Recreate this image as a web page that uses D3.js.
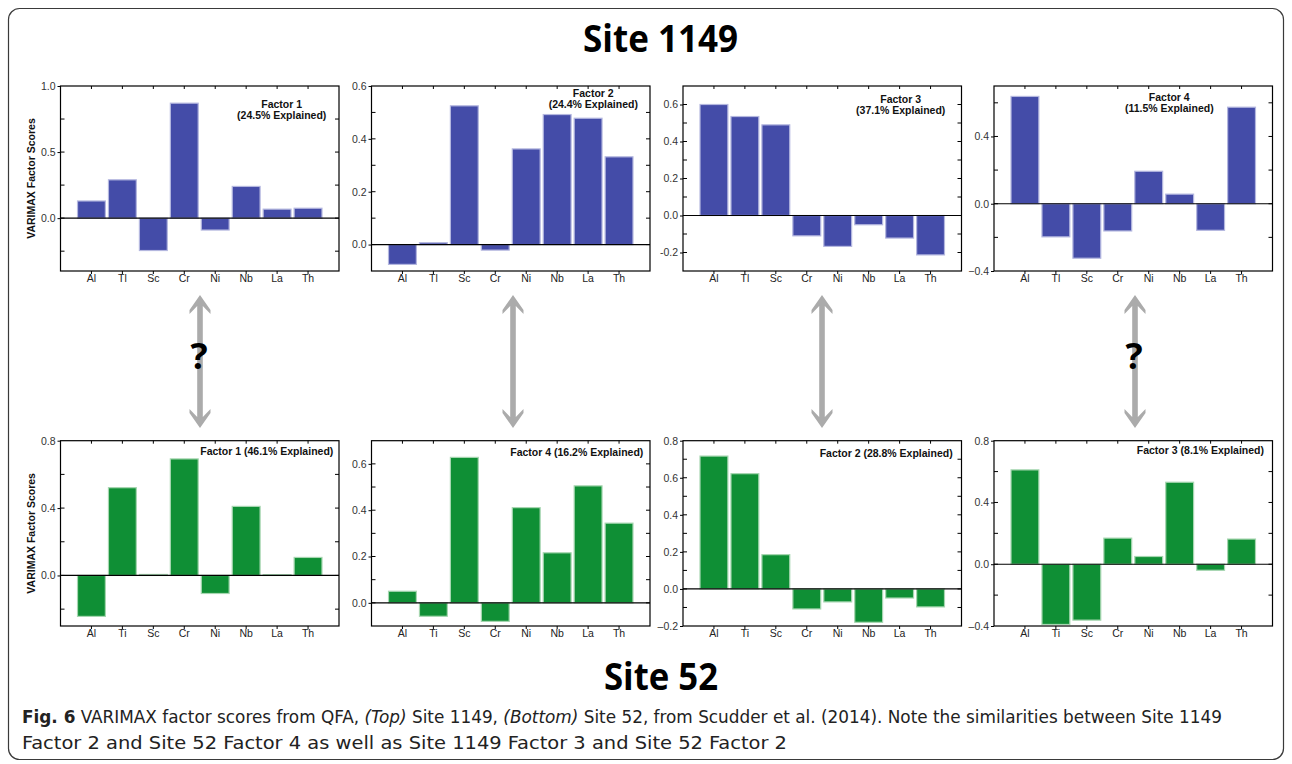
<!DOCTYPE html>
<html>
<head>
<meta charset="utf-8">
<script src="https://cdn.jsdelivr.net/npm/d3@7"></script>
<style>
  html, body { margin: 0; padding: 0; background: #fff; }
  svg { display: block; }
</style>
</head>
<body>
<svg id="chart" width="1292" height="764"></svg>
<script>
// ---------------- DATA ----------------
const elementsTop = ["Al", "Tl", "Sc", "Cr", "Ni", "Nb", "La", "Th"];
const elementsBottom = ["Al", "Ti", "Sc", "Cr", "Ni", "Nb", "La", "Th"];

// Site 1149 (top row)
const site1149Factor1 = [0.13, 0.29, -0.245, 0.87, -0.09, 0.24, 0.068, 0.075];
const site1149Factor2 = [-0.075, 0.007, 0.525, -0.021, 0.362, 0.492, 0.478, 0.332];
const site1149Factor3 = [0.60, 0.535, 0.49, -0.11, -0.167, -0.05, -0.122, -0.213];
const site1149Factor4 = [0.638, -0.197, -0.324, -0.162, 0.193, 0.057, -0.158, 0.574];

// Site 52 (bottom row)
const site52Factor1 = [-0.243, 0.521, 0.006, 0.692, -0.107, 0.41, 0.005, 0.107];
const site52Factor4 = [0.05, -0.058, 0.628, -0.08, 0.411, 0.216, 0.505, 0.344];
const site52Factor2 = [0.717, 0.622, 0.185, -0.108, -0.07, -0.18, -0.049, -0.097];
const site52Factor3 = [0.611, -0.39, -0.362, 0.169, 0.05, 0.531, -0.039, 0.163];

// Axis domains, ticks and tick labels per panel
const yDomains = [[-0.4, 1.0], [-0.1, 0.6], [-0.3, 0.7], [-0.4, 0.7],
                  [-0.3, 0.8], [-0.1, 0.7], [-0.2, 0.8], [-0.4, 0.8]];
const majorTicks = [[0, 0.5, 1.0], [0, 0.2, 0.4, 0.6], [-0.2, 0, 0.2, 0.4, 0.6], [-0.4, 0, 0.4],
                    [0, 0.4, 0.8], [0, 0.2, 0.4, 0.6], [-0.2, 0, 0.2, 0.4, 0.6, 0.8], [-0.4, 0, 0.4, 0.8]];
const majorLabels = [["0.0", "0.5", "1.0"], ["0.0", "0.2", "0.4", "0.6"], ["-0.2", "0.0", "0.2", "0.4", "0.6"], ["\u22120.4", "0.0", "0.4"],
                     ["0.0", "0.4", "0.8"], ["0.0", "0.2", "0.4", "0.6"], ["\u20130.2", "0.0", "0.2", "0.4", "0.6", "0.8"], ["\u20130.4", "0.0", "0.4", "0.8"]];
const minorSteps = [0.25, 0.1, 0.1, 0.2, 0.2, 0.1, 0.1, 0.2];

const topFactorNames = ["Factor 1", "Factor 2", "Factor 3", "Factor 4"];
const topExplained = ["(24.5% Explained)", "(24.4% Explained)", "(37.1% Explained)", "(11.5% Explained)"];
const bottomLabels = ["Factor 1 (46.1% Explained)", "Factor 4 (16.2% Explained)",
                      "Factor 2 (28.8% Explained)", "Factor 3 (8.1% Explained)"];

const yAxisTitle = "VARIMAX Factor Scores";
const titleTop = "Site 1149";
const titleBottom = "Site 52";

// ---------------- LAYOUT ----------------
const svg = d3.select("#chart");
const FONT = "'Liberation Sans', Arial, Helvetica, sans-serif";
const panelLefts = [60.5, 371.5, 683, 994];
const panelW = 278.5;
const rowTop = [86, 440.7];
const rowH = [185, 185.3];
const blue = "#444ca8", blueHalo = "#b4b7df";
const green = "#0f8f35", greenHalo = "#a6d6b0";

// outer rounded border
svg.append("rect")
  .attr("x", 8.5).attr("y", 8.5).attr("width", 1275).attr("height", 751)
  .attr("rx", 11).attr("fill", "none").attr("stroke", "#3a3a3a").attr("stroke-width", 1.2);

// titles
function fitText(sel, target) {
  const w = sel.node().getComputedTextLength();
  if (w > 0) sel.attr("textLength", target).attr("lengthAdjust", "spacingAndGlyphs");
}
const t1 = svg.append("text").attr("x", 660.5).attr("y", 52).attr("text-anchor", "middle")
  .attr("font-family", "'Open Sans', 'Noto Sans', sans-serif").attr("font-weight", "bold")
  .attr("font-size", 37).attr("fill", "#000").text(titleTop);
fitText(t1, 155);
const t2 = svg.append("text").attr("x", 661).attr("y", 690).attr("text-anchor", "middle")
  .attr("font-family", "'Open Sans', 'Noto Sans', sans-serif").attr("font-weight", "bold")
  .attr("font-size", 37).attr("fill", "#000").text(titleBottom);
fitText(t2, 114);

const panelData = [site1149Factor1, site1149Factor2, site1149Factor3, site1149Factor4,
                   site52Factor1, site52Factor4, site52Factor2, site52Factor3];

panelData.forEach((vals, i) => {
  const row = i < 4 ? 0 : 1;
  const col = i % 4;
  const cats = row === 0 ? elementsTop : elementsBottom;
  const x0 = panelLefts[col], x1 = x0 + panelW;
  const y0 = rowTop[row], y1 = y0 + rowH[row];
  const fill = row === 0 ? blue : green;
  const halo = row === 0 ? blueHalo : greenHalo;

  const x = d3.scaleBand().domain(cats).range([x0, x1]).paddingInner(0.1).paddingOuter(0.55);
  const y = d3.scaleLinear().domain(yDomains[i]).range([y1, y0]);
  const g = svg.append("g");

  // bars
  g.selectAll("rect.bar").data(vals).enter().append("rect")
    .attr("class", "bar")
    .attr("x", (d, k) => x(cats[k]))
    .attr("width", x.bandwidth())
    .attr("y", d => y(Math.max(0, d)))
    .attr("height", d => Math.abs(y(d) - y(0)))
    .attr("fill", fill).attr("stroke", halo).attr("stroke-width", 1.2);

  // zero line
  g.append("line").attr("x1", x0).attr("x2", x1).attr("y1", y(0)).attr("y2", y(0))
    .attr("stroke", "#000").attr("stroke-width", 1.2);

  // minor ticks (inward on both sides)
  const dom = yDomains[i];
  const st = minorSteps[i];
  const minors = [];
  for (let v = Math.ceil(dom[0] / st - 1e-6) * st; v <= dom[1] + 1e-6; v += st) minors.push(+v.toFixed(4));
  minors.forEach(v => {
    const yy = y(v);
    if (Math.abs(yy - y0) < 0.5 || Math.abs(yy - y1) < 0.5) return;
    g.append("line").attr("x1", x0).attr("x2", x0 + 4).attr("y1", yy).attr("y2", yy)
      .attr("stroke", "#000").attr("stroke-width", 1);
    g.append("line").attr("x1", x1).attr("x2", x1 - 4).attr("y1", yy).attr("y2", yy)
      .attr("stroke", "#000").attr("stroke-width", 1);
  });

  // left axis with labels (outward major ticks)
  const axisL = d3.axisLeft(y).tickValues(majorTicks[i]).tickSize(3).tickPadding(2)
    .tickFormat((d, k) => majorLabels[i][k]);
  const ag = svg.append("g").attr("transform", `translate(${x0},0)`).call(axisL);
  ag.select(".domain").remove();
  ag.selectAll("text").attr("font-family", FONT).attr("font-size", 10.5).attr("fill", "#333");
  ag.selectAll("line").attr("stroke", "#000");

  // top / bottom category ticks
  cats.forEach(c => {
    const cx = x(c) + x.bandwidth() / 2;
    g.append("line").attr("x1", cx).attr("x2", cx).attr("y1", y0).attr("y2", y0 + 3)
      .attr("stroke", "#000").attr("stroke-width", 1);
    g.append("line").attr("x1", cx).attr("x2", cx).attr("y1", y1).attr("y2", y1 + 3)
      .attr("stroke", "#000").attr("stroke-width", 1);
  });

  // bottom category labels
  const axisB = d3.axisBottom(x).tickSize(0).tickPadding(4);
  const bg = svg.append("g").attr("transform", `translate(0,${y1})`).call(axisB);
  bg.select(".domain").remove();
  bg.selectAll("text").attr("font-family", FONT).attr("font-size", 10.5).attr("fill", "#222");

  // frame
  g.append("rect").attr("x", x0).attr("y", y0).attr("width", panelW).attr("height", rowH[row])
    .attr("fill", "none").attr("stroke", "#000").attr("stroke-width", 1.2);

  // factor label
  if (row === 0) {
    const centers = [281.7, 593.3, 900.7, 1169.3];
    const base = [108.3, 96.7, 103.3, 101];
    g.append("text").attr("x", centers[col]).attr("y", base[col]).attr("text-anchor", "middle")
      .attr("font-family", FONT).attr("font-weight", "bold").attr("font-size", 10.5)
      .attr("fill", "#111").text(topFactorNames[col]);
    g.append("text").attr("x", centers[col]).attr("y", base[col] + 10.8).attr("text-anchor", "middle")
      .attr("font-family", FONT).attr("font-weight", "bold").attr("font-size", 10.5)
      .attr("fill", "#111").text(topExplained[col]);
  } else {
    const rights = [333.3, 643.3, 952.7, 1264];
    const base = [455, 456, 457.3, 454];
    g.append("text").attr("x", rights[col]).attr("y", base[col]).attr("text-anchor", "end")
      .attr("font-family", FONT).attr("font-weight", "bold").attr("font-size", 10.5)
      .attr("fill", "#111").text(bottomLabels[col]);
  }

  // y axis title on first column
  if (col === 0) {
    svg.append("text")
      .attr("transform", `translate(35,${(y0 + y1) / 2}) rotate(-90)`)
      .attr("text-anchor", "middle")
      .attr("font-family", FONT).attr("font-weight", "bold").attr("font-size", 10.5)
      .attr("fill", "#111").text(yAxisTitle);
  }
});

// double-headed comparison arrows
const arrowXs = [200, 513, 822, 1135];
const arrowQuestion = [true, false, false, true];
arrowXs.forEach((ax, k) => {
  const t = 295, b = 428;
  const hw = 10.5, sw = 2.8;
  const p = d3.path();
  p.moveTo(ax, t);
  p.lineTo(ax + hw, t + 15); p.lineTo(ax + hw, t + 19); p.lineTo(ax + sw, t + 11);
  p.lineTo(ax + sw, b - 11); p.lineTo(ax + hw, b - 19); p.lineTo(ax + hw, b - 15);
  p.lineTo(ax, b);
  p.lineTo(ax - hw, b - 15); p.lineTo(ax - hw, b - 19); p.lineTo(ax - sw, b - 11);
  p.lineTo(ax - sw, t + 11); p.lineTo(ax - hw, t + 19); p.lineTo(ax - hw, t + 15);
  p.closePath();
  svg.append("path").attr("d", p.toString()).attr("fill", "#ababab");
  if (arrowQuestion[k]) {
    svg.append("text").attr("x", ax - 1).attr("y", 369).attr("text-anchor", "middle")
      .attr("font-family", "'Liberation Sans Narrow', 'Open Sans', sans-serif")
      .attr("font-weight", "bold").attr("font-size", 36).attr("fill", "#000").text("?");
  }
});

// caption
const CAP = "'Liberation Sans Narrow', 'DejaVu Sans Condensed', 'Open Sans', sans-serif";
const cap1 = svg.append("text").attr("x", 22).attr("y", 723)
  .attr("font-family", CAP).attr("font-size", 18).attr("fill", "#222");
cap1.append("tspan").attr("font-weight", "bold").text("Fig. 6");
cap1.append("tspan").text(" VARIMAX factor scores from QFA, ");
cap1.append("tspan").attr("font-style", "italic").text("(Top)");
cap1.append("tspan").text(" Site 1149, ");
cap1.append("tspan").attr("font-style", "italic").text("(Bottom)");
cap1.append("tspan").text(" Site 52, from Scudder et al. (2014). Note the similarities between Site 1149");
fitText(cap1, 1200);
const cap2 = svg.append("text").attr("x", 22).attr("y", 749)
  .attr("font-family", CAP).attr("font-size", 18).attr("fill", "#222")
  .text("Factor 2 and Site 52 Factor 4 as well as Site 1149 Factor 3 and Site 52 Factor 2");
fitText(cap2, 765);
</script>
</body>
</html>
